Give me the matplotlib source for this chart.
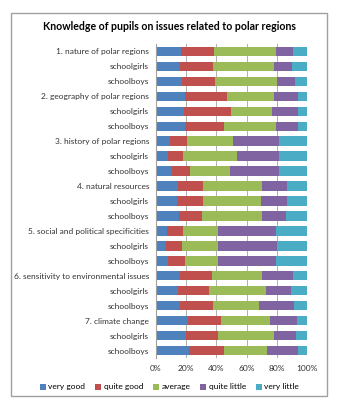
import numpy as np
import matplotlib.pyplot as plt
from matplotlib.patches import Rectangle

plt.rcParams['font.family'] = ['Lato', 'DejaVu Sans']

# Row labels, top to bottom
rows = ["1. nature of polar regions", "schoolgirls", "schoolboys",
        "2. geography of polar regions", "schoolgirls", "schoolboys",
        "3. history of polar regions", "schoolgirls", "schoolboys",
        "4. natural resources", "schoolgirls", "schoolboys",
        "5. social and political specificities", "schoolgirls", "schoolboys",
        "6. sensitivity to environmental issues", "schoolgirls", "schoolboys",
        "7. climate change", "schoolgirls", "schoolboys"]

categories = ["very good", "quite good", "average", "quite little", "very little"]

# shares in percent
very_good = [16.3, 15.9, 17.2, 19.2, 18.8, 19.4, 9.3, 8.2, 10.4, 14.8, 13.9, 15.2,
             7.3, 6.4, 8.2, 15.9, 14.6, 15.9, 21.2, 19.6, 22.1]
quite_good = [22.1, 21.6, 22.1, 28.0, 30.6, 25.9, 11.0, 9.9, 12.3, 16.3, 17.4, 15.5,
              10.8, 10.8, 11.2, 21.2, 20.5, 21.6, 22.1, 21.7, 22.7]
average = [41.1, 40.6, 40.6, 30.9, 27.4, 34.2, 30.9, 35.5, 26.3, 39.1, 38.2, 39.7,
           23.0, 23.9, 21.7, 33.1, 37.5, 30.5, 32.2, 36.6, 28.5]
quite_little = [11.2, 12.0, 12.2, 15.7, 17.0, 14.3, 30.3, 27.9, 32.5, 16.3, 17.0, 15.7,
                38.4, 38.8, 38.4, 20.3, 16.6, 23.4, 17.7, 14.6, 20.5]
very_little = [100 - a - b - c - d for a, b, c, d in
               zip(very_good, quite_good, average, quite_little)]

series = [very_good, quite_good, average, quite_little, very_little]
colors = ["#4F81BD", "#C0504D", "#9BBB59", "#8064A2", "#4BACC6"]

fig = plt.figure(figsize=(3.57, 4.0), dpi=100)
fig.patches.append(Rectangle((0.03, 0.01), 0.886, 0.957, transform=fig.transFigure,
                             fill=False, edgecolor="#A0A0A0", linewidth=1.0))
ax = fig.add_axes([156 / 357, 1 - 358 / 400, 151 / 357, 314 / 400])

y = np.arange(len(rows))
left = np.zeros(len(rows))
for vals, col, name in zip(series, colors, categories):
    ax.barh(y, vals, left=left, height=0.63, color=col, label=name, zorder=2)
    left += np.array(vals)

ax.set_xlim(0, 100)
ax.set_ylim(len(rows) - 0.5, -0.5)
ax.set_yticks(y)
ax.set_yticklabels(rows, fontsize=6.0, color="#333333")
ax.set_xticks([0, 20, 40, 60, 80, 100])
ax.set_xticklabels(["0%", "20%", "40%", "60%", "80%", "100%"], fontsize=6.0, color="#333333")
ax.tick_params(axis="both", length=0, pad=5)
ax.grid(axis="x", color="#B0B0B0", linewidth=0.7, zorder=0)
for s in ["top", "right", "bottom"]:
    ax.spines[s].set_visible(False)
ax.spines["left"].set_color("#A0A0A0")

fig.text(0.475, 1 - 27 / 400, "Knowledge of pupils on issues related to polar regions",
         ha="center", va="center", fontsize=7.6, fontweight="bold")

handles, labels = ax.get_legend_handles_labels()
fig.legend(handles, labels, loc="center", bbox_to_anchor=(0.475, 1 - 387 / 400), ncol=5,
           frameon=False, fontsize=6.0, handlelength=0.7, handleheight=0.7,
           handletextpad=0.3, columnspacing=1.2)

fig.savefig("out.png", dpi=100)
